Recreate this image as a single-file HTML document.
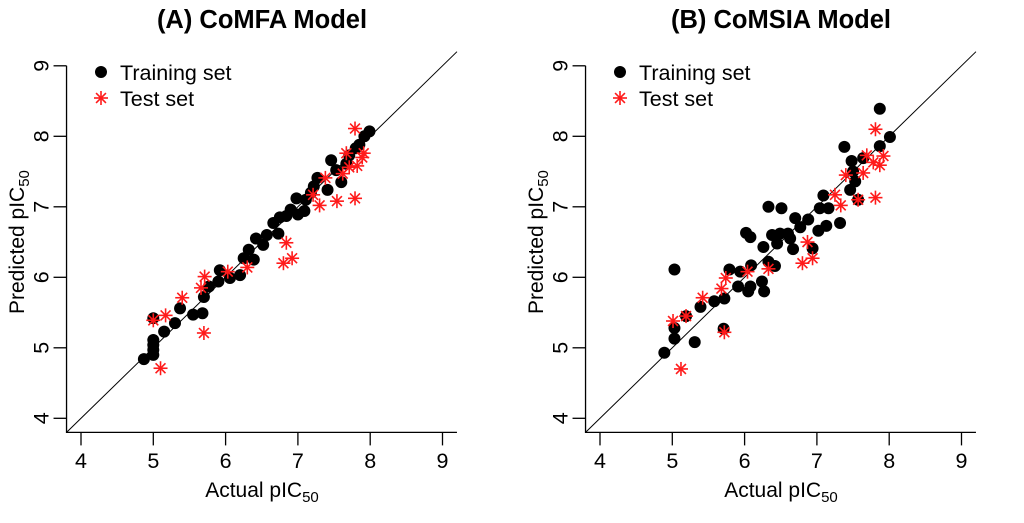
<!DOCTYPE html>
<html><head><meta charset="utf-8"><style>
html,body{margin:0;padding:0;background:#fff;}
svg{display:block;font-family:"Liberation Sans",Arial,sans-serif;}
</style></head><body>
<svg id="chart" width="1024" height="523" viewBox="0 0 1024 523"></svg>
<script>
const ticks=[4,5,6,7,8,9];
const tickLabels=["4","5","6","7","8","9"];
const panelTitles=["(A) CoMFA Model","(B) CoMSIA Model"];
const aTrainX=[4.87,5.0,5.0,5.0,5.0,5.0,5.15,5.3,5.37,5.55,5.68,5.7,5.77,5.9,5.92,6.06,6.2,6.25,6.32,6.39,6.42,6.52,6.57,6.66,6.73,6.75,6.84,6.9,6.98,7.0,7.09,7.11,7.18,7.22,7.27,7.41,7.46,7.53,7.6,7.67,7.71,7.8,7.85,7.92,7.99];
const aTrainY=[4.84,5.11,5.04,4.97,4.9,5.42,5.23,5.35,5.56,5.47,5.49,5.72,5.87,5.94,6.1,5.99,6.03,6.27,6.39,6.25,6.55,6.46,6.6,6.77,6.62,6.85,6.87,6.96,7.12,6.89,6.94,7.1,7.2,7.29,7.41,7.24,7.66,7.52,7.35,7.61,7.73,7.83,7.88,8.0,8.07];
const aTestX=[5.0,5.17,5.4,5.66,5.71,5.7,5.1,6.03,6.3,6.84,6.8,6.92,7.21,7.3,7.38,7.54,7.79,7.79,7.67,7.62,7.71,7.82,7.89,7.91];
const aTestY=[5.39,5.46,5.71,5.85,6.01,5.21,4.71,6.08,6.14,6.49,6.2,6.27,7.17,7.02,7.41,7.08,7.12,8.11,7.76,7.47,7.56,7.58,7.7,7.76];
const bTrainX=[7.87,8.01,7.38,7.87,7.48,7.64,7.5,7.53,7.46,7.57,7.09,7.04,7.16,7.13,7.32,7.02,6.88,6.7,6.77,6.49,6.6,6.38,6.63,6.33,6.51,6.02,6.08,6.45,6.26,6.67,6.94,6.33,6.42,6.09,5.79,5.94,5.91,6.08,6.05,6.24,6.27,5.72,5.58,5.39,5.19,5.03,5.03,5.03,5.31,4.89,5.71];
const bTrainY=[8.39,7.99,7.85,7.86,7.65,7.69,7.5,7.36,7.24,7.1,7.16,6.98,6.98,6.73,6.77,6.66,6.82,6.84,6.71,6.62,6.62,6.6,6.55,7.0,6.98,6.63,6.57,6.48,6.43,6.4,6.41,6.22,6.16,6.17,6.11,6.08,5.87,5.87,5.8,5.94,5.8,5.7,5.66,5.58,5.45,6.11,5.28,5.13,5.08,4.93,5.27];
const bTestX=[7.81,7.81,7.69,7.87,7.92,7.78,7.64,7.4,7.25,7.33,7.57,6.87,6.8,6.94,6.33,6.04,5.74,5.68,5.42,5.19,5.01,5.72,5.12];
const bTestY=[8.1,7.13,7.73,7.59,7.72,7.63,7.48,7.45,7.17,7.02,7.1,6.5,6.2,6.27,6.12,6.08,5.99,5.84,5.71,5.45,5.38,5.22,4.7];

const svg=document.getElementById('chart');
const NS='http://www.w3.org/2000/svg';
function mk(tag,attrs,parent){const e=document.createElementNS(NS,tag);for(const k in attrs)e.setAttribute(k,attrs[k]);(parent||svg).appendChild(e);return e;}
const panels=[{ox:0,trX:aTrainX,trY:aTrainY,teX:aTestX,teY:aTestY},{ox:519,trX:bTrainX,trY:bTrainY,teX:bTestX,teY:bTestY}];
const UX=72.3,UY=70.5;
function star(g,cx,cy,r){
  for(let i=0;i<4;i++){const a=i*Math.PI/4;
    const l=mk('line',{x1:cx-r*Math.cos(a),y1:cy-r*Math.sin(a),x2:cx+r*Math.cos(a),y2:cy+r*Math.sin(a),stroke:'#ff1a1a','stroke-width':1.6},g);
    
    }
}
panels.forEach((p,pi)=>{
  const sx=v=>p.ox+81+(v-4)*UX;
  const sy=v=>418.3-(v-4)*UY;
  const g=mk('g',{});
  
  
  const t=mk('text',{x:p.ox+262,y:28,'text-anchor':'middle','font-size':25.5,'font-weight':'bold'},g);
  t.textContent=panelTitles[pi];
  
  
  const x0=sx(3.8),x1=sx(9.2),y0=sy(3.8),y1=sy(9.2);
  const fr=mk('path',{d:`M${x0},${sy(9)} V${y0} H${x1}`,fill:'none',stroke:'#000','stroke-width':1.3},g);
  
  
  ticks.forEach((v,i)=>{
    const tx=mk('line',{x1:sx(v),y1:y0,x2:sx(v),y2:y0+13,stroke:'#000','stroke-width':1.3},g);
    
    
    const lx=mk('text',{x:sx(v),y:468,'text-anchor':'middle','font-size':21.5},g);
    lx.textContent=tickLabels[i];
    
    
    const ty=mk('line',{x1:x0-13,y1:sy(v),x2:x0,y2:sy(v),stroke:'#000','stroke-width':1.3},g);
    
    
    const ly=mk('text',{x:0,y:0,'text-anchor':'middle','font-size':21.5,transform:`translate(${x0-18},${sy(v)}) rotate(-90)`},g);
    ly.textContent=tickLabels[i];
    
    
  });
  const xl=mk('text',{x:p.ox+262,y:497,'text-anchor':'middle','font-size':21},g);
  xl.innerHTML='Actual pIC<tspan font-size="15" dy="5">50</tspan>';
  
  
  const yl=mk('text',{x:0,y:0,'text-anchor':'middle','font-size':21,transform:`translate(${p.ox+24},${sy(6.5)}) rotate(-90)`},g);
  yl.innerHTML='Predicted pIC<tspan font-size="15" dy="5">50</tspan>';
  
  
  const dg=mk('line',{x1:x0,y1:y0,x2:x1,y2:y1,stroke:'#000','stroke-width':1},g);
  
  
  p.trX.forEach((v,i)=>{
    const c=mk('circle',{cx:sx(v),cy:sy(p.trY[i]),r:6,fill:'#000'},g);
    
    
  });
  p.teX.forEach((v,i)=>{
    const sg=mk('g',{},g);
    
    
    star(sg,sx(v),sy(p.teY[i]),7);
  });
  const lg=mk('g',{},g);
  
  
  const ld=mk('circle',{cx:p.ox+101,cy:72,r:6,fill:'#000'},lg);
  
  
  const lt1=mk('text',{x:p.ox+120,y:80,'font-size':21.5},lg);
  lt1.textContent='Training set';
  
  
  star(lg,p.ox+101,98,7);
  const lt2=mk('text',{x:p.ox+120,y:106,'font-size':21.5},lg);
  lt2.textContent='Test set';
  
  
});
</script>
</body></html>
